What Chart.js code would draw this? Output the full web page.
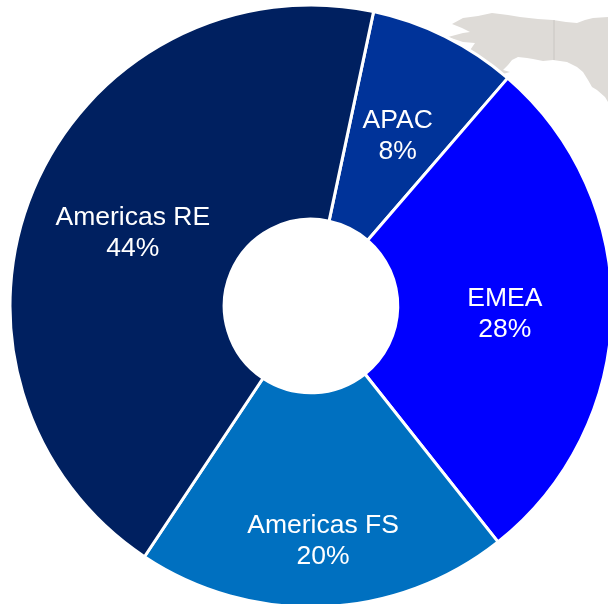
<!DOCTYPE html>
<html>
<head>
<meta charset="utf-8">
<style>
html,body{margin:0;padding:0;background:#fff;width:608px;height:604px;overflow:hidden}
#wrap{position:relative;width:608px;height:604px;overflow:hidden}
#map{position:absolute;left:0;top:0;filter:blur(0.4px)}
#c{position:absolute;left:0;top:1px}
</style>
<script src="https://cdn.jsdelivr.net/npm/chart.js@4"></script>
</head>
<body>
<div id="wrap">
<svg id="map" width="608" height="604">
  <path d="M452,24 L463,18 L478,16 L492,13 L508,15 L520,17 L538,19 L553,20 L566,22 L577,23 L585,20 L593,18 L608,17 L608,102 L605,97 L597,90 L592,87 L588,80 L583,72 L577,67 L567,62 L553,60 L543,61 L533,59 L527,58 L518,57 L512,60 L508,65 L503,70 L510,72 L503,74 L500,78 L466,56 L475,43 L463,42 L448,37 L463,33 L470,32 L462,28 Z" fill="#dedbd7"/>
  <path d="M554,20 L554,60" stroke="#c9c6c2" stroke-width="1" fill="none"/>
</svg>
<canvas id="c" width="622" height="610" style="width:622px;height:610px"></canvas>
</div>
<script>
const categories = ["APAC", "EMEA", "Americas FS", "Americas RE"];
const shares = [8, 28, 20, 44];
const sliceColors = ["#003399", "#0000FF", "#0070C0", "#002060"];
const labelShift = [[0.5, 4], [0, 4], [4, 41], [0.5, 2.5]];

const sliceLabels = {
  id: "sliceLabels",
  afterDatasetsDraw(chart) {
    const ctx = chart.ctx;
    const arcs = chart.getDatasetMeta(0).data;
    ctx.save();
    ctx.fillStyle = "#ffffff";
    ctx.font = '26.5px "Liberation Sans", Arial, sans-serif';
    ctx.textAlign = "center";
    ctx.textBaseline = "middle";
    arcs.forEach((arc, i) => {
      const p = arc.getCenterPoint();
      const x = p.x + labelShift[i][0];
      const y = p.y + labelShift[i][1];
      ctx.fillText(categories[i], x, y - 15.5);
      ctx.fillText(shares[i] + "%", x, y + 15.5);
    });
    ctx.restore();
  }
};

new Chart(document.getElementById("c"), {
  type: "doughnut",
  data: {
    labels: categories,
    datasets: [{
      data: shares,
      backgroundColor: sliceColors,
      borderColor: "#ffffff",
      borderWidth: 3,
      borderAlign: "center",
      hoverOffset: 0
    }]
  },
  options: {
    responsive: false,
    animation: false,
    rotation: 12,
    radius: 301,
    cutout: 87.5,
    layout: { padding: 0 },
    plugins: { legend: { display: false }, tooltip: { enabled: false } }
  },
  plugins: [sliceLabels]
});
</script>
</body>
</html>
